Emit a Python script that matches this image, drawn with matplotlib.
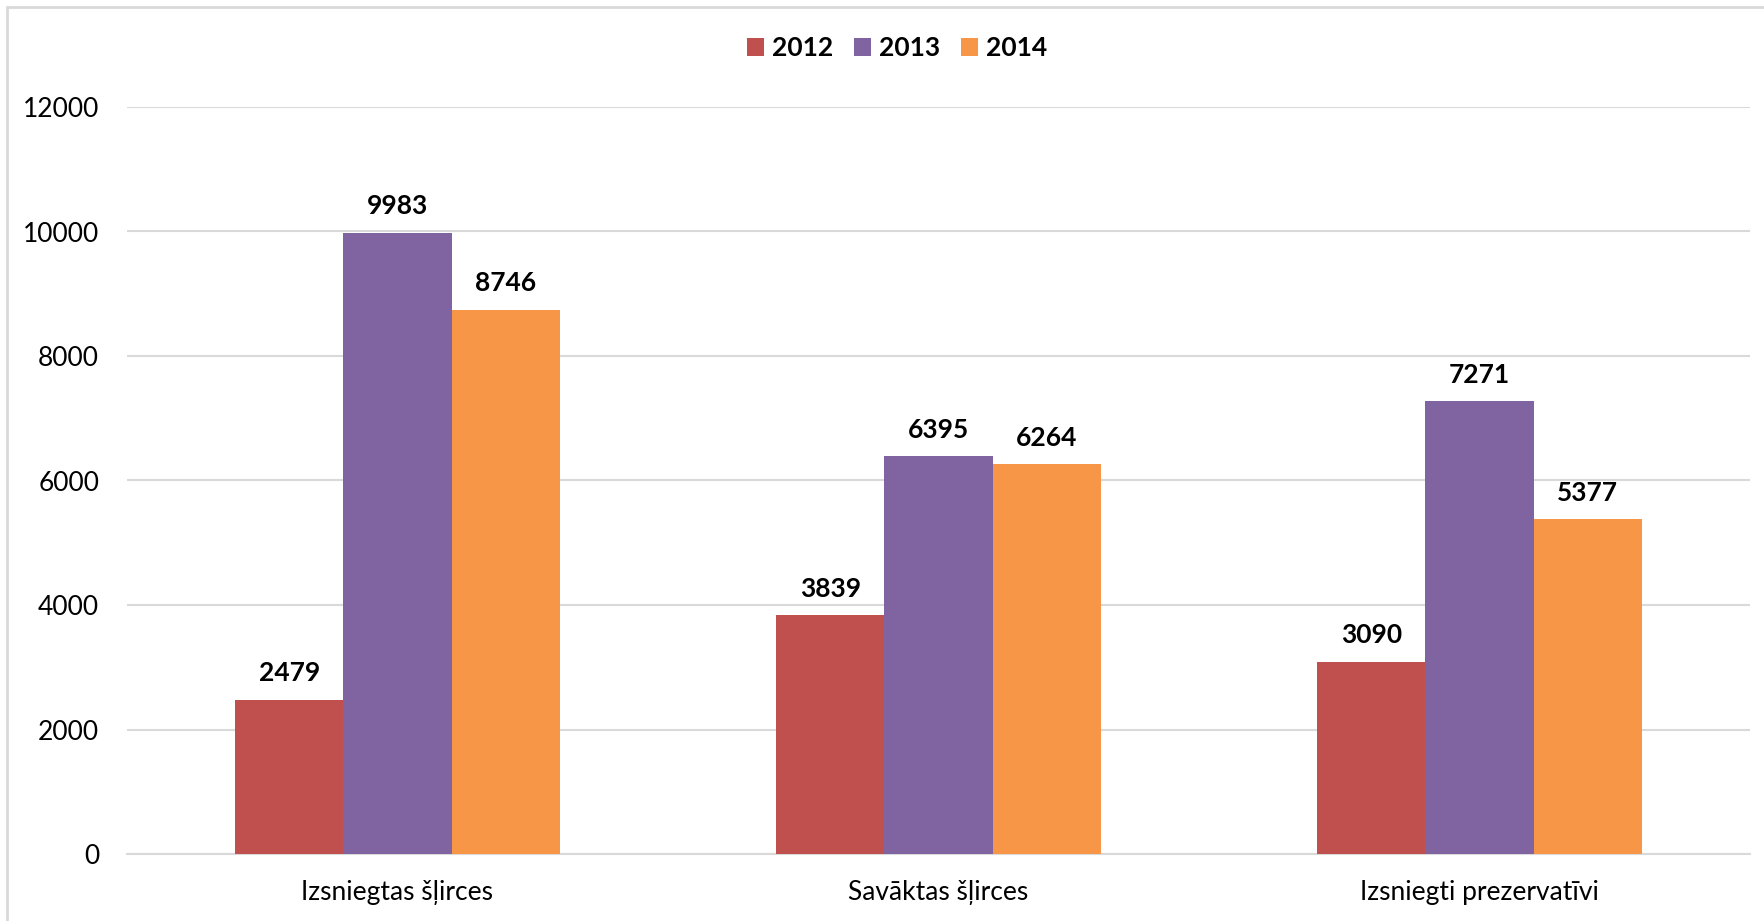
import numpy as np
import matplotlib.pyplot as plt
from matplotlib.patches import Rectangle

plt.rcParams['font.family'] = ['Lato', 'DejaVu Sans']

categories = ['Izsniegtas šļirces', 'Savāktas šļirces', 'Izsniegti prezervatīvi']
years = ['2012', '2013', '2014']
values_2012 = [2479, 3839, 3090]
values_2013 = [9983, 6395, 7271]
values_2014 = [8746, 6264, 5377]
colors = ['#C0504D', '#8064A2', '#F79646']
yticks = [0, 2000, 4000, 6000, 8000, 10000, 12000]

fig = plt.figure(figsize=(17.65, 9.21), dpi=100)
ax = fig.add_axes([127/1765, 67/921, (1750-127)/1765, (854-107)/921])

# light frame round the chart area
fig.patches.append(Rectangle((7/1765, -0.1), 1.2, 1.1 - 7/921,
                             transform=fig.transFigure, fill=False,
                             edgecolor='#D9D9D9', linewidth=2, zorder=0))

x = np.arange(len(categories))
w = 0.2
series = [values_2012, values_2013, values_2014]
for i, (vals, yr, c) in enumerate(zip(series, years, colors)):
    bars = ax.bar(x + (i - 1) * w, vals, w, color=c, label=yr, zorder=3)
    for b, v in zip(bars, vals):
        ax.annotate(str(v), (b.get_x() + b.get_width() / 2, v),
                    xytext=(0, 19), textcoords='offset points',
                    ha='center', va='center', fontsize=19, fontweight='bold')

ax.set_xlim(-0.5, 2.5)
ax.set_ylim(0, 12000)
ax.set_yticks(yticks)
ax.set_xticks(x)
ax.set_xticklabels(categories)
ax.tick_params(axis='both', length=0, labelsize=19, colors='#000000')
ax.tick_params(axis='y', pad=20)
ax.tick_params(axis='x', pad=19)
ax.yaxis.grid(True, color='#D9D9D9', linewidth=1.5, zorder=0)
for s in ['top', 'right', 'left']:
    ax.spines[s].set_visible(False)
ax.spines['bottom'].set_color('#D9D9D9')
ax.spines['bottom'].set_linewidth(1.5)

fig.legend(loc='center', bbox_to_anchor=(897/1765, 1 - 48/921), ncol=3,
           frameon=False, prop={'weight': 'bold', 'size': 19},
           handlelength=0.65, handleheight=0.65, handletextpad=0.3,
           columnspacing=0.8)

fig.savefig('out.png', dpi=100)
